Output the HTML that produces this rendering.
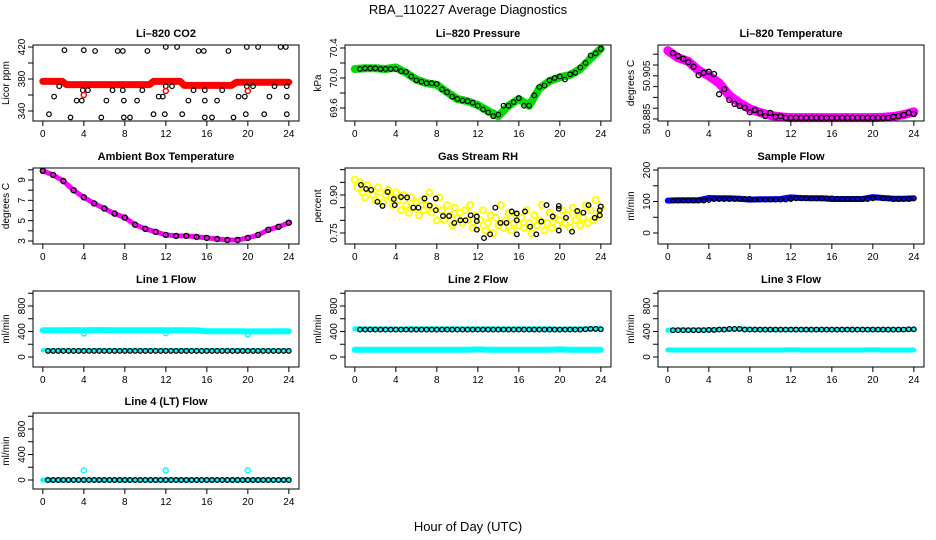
<!DOCTYPE html>
<html><head><meta charset="utf-8">
<style>
html,body{margin:0;padding:0;background:#fff;}
svg{display:block;font-family:"Liberation Sans",Arial,sans-serif;}
</style></head>
<body>
<svg id="chart" width="936" height="540" viewBox="0 0 936 540" xmlns="http://www.w3.org/2000/svg">
<rect width="936" height="540" fill="#fff"/>
<text x="468" y="14" font-size="13" text-anchor="middle">RBA_110227  Average Diagnostics</text>
<text x="468" y="531" font-size="13" text-anchor="middle">Hour of Day (UTC)</text>
</svg>
<script>
// ---------- data ----------
const xTicks = [0,4,8,12,16,20,24];
const co2RawHours = [0,1.9,2.3,10.4,10.8,13.4,13.8,18.4,18.9,24];
const co2RawVals = [377,377,373,373,377,377,372,372,376,376];
const co2Hours = [0.6,1.1,1.6,2.1,2.7,3.3,3.8,3.9,4.0,4.4,5.1,5.7,6.2,6.8,7.3,7.8,7.8,7.9,7.9,8.5,9.2,9.7,10.2,10.8,11.3,11.7,11.9,12.0,12.0,12.6,13.1,13.6,14.2,14.7,15.2,15.7,15.8,15.8,15.8,16.5,17.0,17.5,18.1,18.6,19.1,19.7,19.8,19.9,19.9,20.5,21.0,21.6,22.1,22.6,23.2,23.7,23.8,23.8,23.8];
const co2Vals = [336,358,371,416,332,353,353,366,416,366,415,332,353,366,415,366,415,353,332,332,353,366,415,336,358,358,336,420,371,371,420,336,353,366,415,415,366,353,332,332,353,366,415,332,358,358,336,420,371,371,420,336,358,371,420,420,371,358,336];
const co2RedHours = [4,12,20];
const co2RedVals = [360,365,365];

const halfHours = []; for (let i=1;i<=48;i++) halfHours.push(i/2);
const hours = []; for (let i=0;i<=24;i++) hours.push(i);

const presVals = [70.12,70.13,70.13,70.13,70.12,70.12,70.12,70.12,70.09,70.08,70.02,69.97,69.95,69.93,69.93,69.92,69.85,69.81,69.75,69.72,69.70,69.69,69.67,69.63,69.58,69.54,69.49,69.51,69.63,69.63,69.68,69.73,69.63,69.63,69.77,69.88,69.90,69.97,70.00,70.02,69.98,70.05,70.07,70.14,70.20,70.30,70.33,70.39];
const presRaw = [70.12,70.13,70.13,70.12,70.14,70.07,69.98,69.93,69.91,69.81,69.72,69.69,69.64,69.56,69.49,69.63,69.72,69.63,69.86,69.96,70.01,70.04,70.12,70.26,70.39];

const tempVals = [50.9033,50.9025,50.9017,50.9008,50.8995,50.8972,50.8978,50.8981,50.8975,50.8919,50.8933,50.8903,50.8892,50.8886,50.8881,50.8869,50.8875,50.8867,50.8858,50.8867,50.8856,50.8858,50.8853,50.8853,50.8853,50.8853,50.8853,50.8853,50.8853,50.8853,50.8853,50.8853,50.8853,50.8853,50.8853,50.8853,50.8853,50.8853,50.8853,50.8853,50.8853,50.8853,50.8853,50.8856,50.8858,50.8861,50.8867,50.8864];
const tempRaw = [50.9040,50.9020,50.9010,50.8985,50.8970,50.8950,50.8915,50.8895,50.8878,50.8868,50.8860,50.8856,50.8854,50.8854,50.8854,50.8854,50.8854,50.8854,50.8854,50.8854,50.8854,50.8855,50.8857,50.8862,50.8870];

const ambVals = [9.9,9.5,8.9,8.0,7.3,6.7,6.2,5.7,5.3,4.6,4.2,3.9,3.6,3.5,3.5,3.4,3.3,3.2,3.1,3.1,3.3,3.6,4.1,4.4,4.8];

const rhHours = [0.6,1.1,1.6,2.2,2.7,3.2,3.8,3.9,4.5,5.1,5.7,6.2,6.8,7.3,7.9,7.9,8.6,9.2,9.7,10.3,10.8,11.3,11.9,11.9,11.9,12.6,13.2,13.7,14.2,14.8,15.3,15.8,15.8,15.8,16.6,17.1,17.7,18.2,18.7,19.3,19.9,19.9,19.9,20.6,21.2,21.7,22.3,22.8,23.4,24.0,23.9,23.9];
const rhVals = [0.94,0.924,0.92,0.873,0.857,0.912,0.884,0.86,0.892,0.89,0.85,0.85,0.886,0.858,0.886,0.84,0.817,0.817,0.79,0.80,0.80,0.82,0.815,0.797,0.763,0.73,0.745,0.85,0.79,0.79,0.835,0.827,0.80,0.745,0.835,0.775,0.745,0.795,0.86,0.815,0.857,0.846,0.76,0.81,0.755,0.837,0.83,0.86,0.81,0.855,0.84,0.82];
const rhRaw = [0.96,0.93,0.95,0.91,0.89,0.94,0.92,0.90,0.88,0.93,0.91,0.87,0.90,0.92,0.89,0.86,0.91,
0.88,0.84,0.90,0.86,0.83,0.89,0.85,0.87,0.82,0.88,0.84,0.86,0.91,0.83,0.85,0.80,
0.89,0.84,0.80,0.86,0.82,0.78,0.85,0.81,0.83,0.79,0.84,0.80,0.86,0.77,0.82,0.78,
0.80,0.84,0.76,0.79,0.82,0.75,0.81,0.78,0.86,0.77,0.80,0.83,0.76,0.79,0.82,0.78,
0.81,0.77,0.84,0.79,0.75,0.82,0.78,0.80,0.86,0.76,0.79,0.83,0.77,0.81,0.78,0.80,
0.84,0.79,0.82,0.77,0.85,0.80,0.83,0.78,0.81,0.86,0.79,0.84,0.80,0.88,0.82,0.85];

const sampleVals = [103,103,103,103,103,103,103,105,108,108,108,108,108,108,108,108,106,106,106,106,106,106,106,108,110,110,110,110,110,110,110,110,108,108,108,108,108,108,108,110,112,110,110,108,108,108,108,110];
const sampleRaw = [103,104,104,104,111,110,110,109,106,107,107,108,113,111,110,110,108,108,108,108,114,111,109,109,110];

const line1Black = [95,95,95,95,95,95,95,95,95,95,95,95,95,95,95,95,95,95,95,95,95,95,95,95,95,95,95,95,95,95,95,95,95,95,95,95,95,95,95,95,95,95,95,95,95,95,95,95];
const line1Low = [105,105,105,105,108,108,108,108,108,108,108,108,108,108,108,108,108,108,108,108,108,106,106,106,106];
const line1High = [420,420,420,422,420,422,422,420,420,420,420,420,420,420,420,418,405,405,405,405,402,402,402,405,405];
const line1DipHours = [4,12,20];
const line1DipVals = [370,375,355];

const line2Black = [430,430,430,430,430,430,430,430,430,430,430,430,430,430,430,430,430,430,430,430,430,430,430,430,430,430,430,430,430,430,430,430,430,430,430,430,430,430,430,430,430,430,430,430,435,440,440,435];
const line2High = [440,440,440,440,435,440,440,440,440,440,440,440,440,440,440,440,440,440,440,440,435,440,440,440,445];
const line2Low = [115,115,115,115,115,115,115,115,115,115,115,115,120,115,115,115,115,115,115,115,120,115,115,115,115];

const line3Black = [420,420,420,420,420,420,420,425,425,430,430,440,440,440,430,430,430,430,430,430,430,430,430,430,430,430,430,430,430,430,430,430,430,430,430,430,430,430,430,430,430,430,430,430,430,430,435,435];
const line3High = [420,425,425,425,425,430,435,440,435,430,430,430,430,430,430,430,430,430,430,430,430,430,430,430,435];
const line3Low = [110,110,110,110,110,110,110,110,110,110,110,110,115,110,110,110,110,110,110,110,115,110,110,110,110];

const line4Black = [0,0,0,0,0,0,0,0,0,0,0,0,0,0,0,0,0,0,0,0,0,0,0,0,0,0,0,0,0,0,0,0,0,0,0,0,0,0,0,0,0,0,0,0,0,0,0,0];
const line4Cyan = [0,0,0,0,0,0,0,0,0,0,0,0,0,0,0,0,0,0,0,0,0,0,0,0,0];
const line4SpikeHours = [4,12,20];
const line4SpikeVals = [150,150,150];

// ---------- panel setup ----------
const svg = document.getElementById('chart');
const NS = 'http://www.w3.org/2000/svg';
const colLeft = [33,345,658], rowTop = [45,168,291,413], BW = 266, BH = 76;

function mk(tag, attrs, parent) {
  const e = document.createElementNS(NS, tag);
  for (const k in attrs) e.setAttribute(k, attrs[k]);
  (parent || svg).appendChild(e);
  return e;
}

const panels = [
 {id:'co2', title:'Li\u2013820 CO2', ylab:'Licor ppm', col:0,row:0, v1:340,p1:66,v2:420,p2:2, ticks:[340,360,380,400,420], labels:['340','','380','','420']},
 {id:'pressure', title:'Li\u2013820 Pressure', ylab:'kPa', col:1,row:0, v1:69.6,p1:63,v2:70.4,p2:3, ticks:[69.6,69.8,70.0,70.2,70.4], labels:['69.6','','70.0','','70.4']},
 {id:'li-temp', title:'Li\u2013820 Temperature', ylab:'degrees C', col:2,row:0, v1:50.885,p1:74,v2:50.903,p2:9.2, ticks:[50.885,50.888,50.891,50.894,50.897,50.900,50.903], labels:['50.885','','','','50.905','','']},
 {id:'ambient', title:'Ambient Box Temperature', ylab:'degrees C', col:0,row:1, v1:3,p1:73,v2:9,p2:12, ticks:[3,4,5,6,7,8,9,10], labels:['3','','5','','7','','9','']},
 {id:'rh', title:'Gas Stream RH', ylab:'percent', col:1,row:1, v1:0.75,p1:65,v2:0.90,p2:27, ticks:[0.75,0.80,0.85,0.90,0.95,1.00], labels:['0.75','','','0.90','','']},
 {id:'sample', title:'Sample Flow', ylab:'ml/min', col:2,row:1, v1:0,p1:65,v2:200,p2:2, ticks:[0,50,100,150,200], labels:['0','','100','','200']},
 {id:'line1', title:'Line 1 Flow', ylab:'ml/min', col:0,row:2, v1:0,p1:66,v2:800,p2:15, ticks:[0,200,400,600,800,1000], labels:['0','','400','','800','']},
 {id:'line2', title:'Line 2 Flow', ylab:'ml/min', col:1,row:2, v1:0,p1:66,v2:800,p2:15, ticks:[0,200,400,600,800,1000], labels:['0','','400','','800','']},
 {id:'line3', title:'Line 3 Flow', ylab:'ml/min', col:2,row:2, v1:0,p1:66,v2:800,p2:15, ticks:[0,200,400,600,800,1000], labels:['0','','400','','800','']},
 {id:'line4', title:'Line 4 (LT) Flow', ylab:'ml/min', col:0,row:3, v1:0,p1:67,v2:800,p2:16, ticks:[0,200,400,600,800,1000], labels:['0','','400','','800','']}
];

const P = {};
panels.forEach(cfg => {
  const L = colLeft[cfg.col], T = rowTop[cfg.row];
  const g = mk('g', {});
  
  
  const x = h => L + 9.84 + h * 10.25;
  const y = v => T + cfg.p1 + (v - cfg.v1) * (cfg.p2 - cfg.p1) / (cfg.v2 - cfg.v1);
  P[cfg.id] = {g, x, y};
  const t = mk('text', {x: L + BW/2, y: T - 8, 'font-size': 11, 'font-weight': 'bold', 'text-anchor': 'middle'}, g);
  t.textContent = cfg.title;
  
  
  const yl = mk('text', {transform: `translate(${L-24},${T+BH/2}) rotate(-90)`, 'font-size': 10, 'text-anchor': 'middle'}, g);
  yl.textContent = cfg.ylab;
  
  
  const data = mk('g', {}, g);
  
  
  P[cfg.id].d = data;
  const box = mk('rect', {x: L, y: T, width: BW, height: BH, fill: 'none', stroke: '#000', 'stroke-width': 1}, g);
  
  
  cfg.ticks.forEach((v, i) => {
    const yy = y(v);
    mk('line', {x1: L, x2: L-5, y1: yy, y2: yy, stroke: '#000'}, g);
    if (cfg.labels[i]) {
      const tl = mk('text', {transform: `translate(${L-8},${yy}) rotate(-90)`, 'font-size': 10, 'text-anchor': 'middle'}, g);
      tl.textContent = cfg.labels[i];
      
      
    }
  });
  xTicks.forEach(h => {
    const xx = x(h);
    mk('line', {x1: xx, x2: xx, y1: T+BH, y2: T+BH+5, stroke: '#000'}, g);
    const tl = mk('text', {x: xx, y: T+BH+16, 'font-size': 10, 'text-anchor': 'middle'}, g);
    tl.textContent = h;
    
    
  });
});

function band(id, hs, vs, color, w, name) {
  const p = P[id];
  const pts = hs.map((h, i) => p.x(h).toFixed(1) + ',' + p.y(vs[i]).toFixed(1)).join(' ');
  const e = mk('polyline', {points: pts, fill: 'none', stroke: color, 'stroke-width': w, 'stroke-linejoin': 'round', 'stroke-linecap': 'round'}, p.d);
  
  
}
function dots(id, hs, vs, color, r, sw, name) {
  const p = P[id];
  hs.forEach((h, i) => {
    const c = mk('circle', {cx: p.x(h).toFixed(1), cy: p.y(vs[i]).toFixed(1), r: r, fill: 'none', stroke: color, 'stroke-width': sw}, p.d);
    
    
  });
}

// CO2
band('co2', co2RawHours, co2RawVals, '#ff0000', 7, 'co2-raw-band');
dots('co2', co2Hours, co2Vals, '#000', 2.3, 1.2, 'co2-point');
dots('co2', co2RedHours, co2RedVals, '#ff0000', 2.5, 1.5, 'co2-red-point');
// Pressure
band('pressure', hours, presRaw, '#00dd00', 8, 'pressure-raw-band');
dots('pressure', halfHours, presVals, '#000', 2.3, 1.2, 'pressure-point');
// Li temp
band('li-temp', hours, tempRaw, '#ff00ff', 9, 'temperature-raw-band');
dots('li-temp', halfHours, tempVals, '#000', 2.5, 1.3, 'temperature-point');
// Ambient
band('ambient', hours, ambVals, '#ff00ff', 5, 'ambient-raw-band');
dots('ambient', hours, ambVals, '#000', 2.5, 1.4, 'ambient-point');
// RH
const rhRawHours = rhRaw.map((v, i) => i / 4);
dots('rh', rhRawHours, rhRaw, '#ffff00', 3, 2, 'rh-raw-point');
dots('rh', rhHours, rhVals, '#000', 2.3, 1.3, 'rh-point');
// Sample flow
band('sample', hours, sampleRaw, '#0000ff', 6, 'sample-raw-band');
dots('sample', halfHours, sampleVals, '#000', 2.3, 1.3, 'sample-point');
// Line 1
band('line1', hours, line1High, '#00ffff', 6, 'line1-high-band');
band('line1', hours, line1Low, '#00ffff', 4, 'line1-low-band');
dots('line1', line1DipHours, line1DipVals, '#00ffff', 2.5, 1.5, 'line1-dip-point');
dots('line1', halfHours, line1Black, '#000', 2.3, 1.3, 'line1-point');
// Line 2
band('line2', hours, line2Low, '#00ffff', 6, 'line2-low-band');
band('line2', hours, line2High, '#00ffff', 5, 'line2-high-band');
dots('line2', halfHours, line2Black, '#000', 2.3, 1.3, 'line2-point');
// Line 3
band('line3', hours, line3Low, '#00ffff', 5, 'line3-low-band');
band('line3', hours, line3High, '#00ffff', 5, 'line3-high-band');
dots('line3', halfHours, line3Black, '#000', 2.3, 1.3, 'line3-point');
// Line 4
band('line4', hours, line4Cyan, '#00ffff', 5, 'line4-band');
dots('line4', line4SpikeHours, line4SpikeVals, '#00ffff', 2.5, 1.5, 'line4-spike-point');
dots('line4', halfHours, line4Black, '#000', 2.3, 1.3, 'line4-point');
</script>
</body></html>
